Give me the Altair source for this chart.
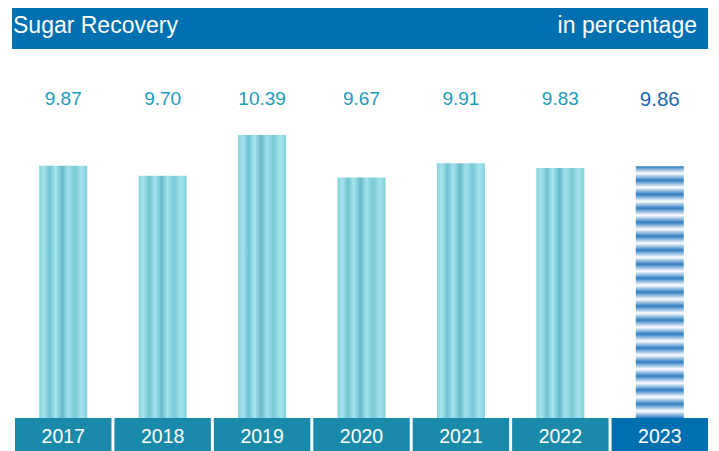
import altair as alt
import pandas as pd

years = ["2017", "2018", "2019", "2020", "2021", "2022", "2023"]
recovery = [9.87, 9.70, 10.39, 9.67, 9.91, 9.83, 9.86]
kind = ["past", "past", "past", "past", "past", "past", "current"]
title_left = ["Sugar Recovery"]
title_right = ["in percentage"]

df = pd.DataFrame({"year": years, "value": recovery, "kind": kind})
hdr_df = pd.DataFrame({"title": title_left, "unit": title_right})

FONT = "Liberation Sans"
Y_MIN = 5.6

xscale = alt.Scale(domain=years, paddingInner=0.03, paddingOuter=0)
x = alt.X("year:N", scale=xscale, axis=None)
y = alt.Y("value:Q", scale=alt.Scale(domain=[Y_MIN, 12.54], zero=False, nice=False), axis=None)

cyan_grad = alt.LinearGradient(
    gradient="linear",
    stops=[
        alt.GradientStop(offset=0.0, color="#86d3df"),
        alt.GradientStop(offset=0.1, color="#a6e4ed"),
        alt.GradientStop(offset=0.22, color="#6fc2d0"),
        alt.GradientStop(offset=0.34, color="#a8e5ee"),
        alt.GradientStop(offset=0.48, color="#66b9c9"),
        alt.GradientStop(offset=0.6, color="#a2e2eb"),
        alt.GradientStop(offset=0.74, color="#78c9d6"),
        alt.GradientStop(offset=0.88, color="#a4e3ec"),
        alt.GradientStop(offset=1.0, color="#84d1dd"),
    ],
    x1=0, x2=1, y1=0, y2=0,
)

n_rep = 18
blue_stops = []
for i in range(n_rep):
    blue_stops.append(alt.GradientStop(offset=i / n_rep, color="#2f7dc4"))
    blue_stops.append(alt.GradientStop(offset=(i + 0.5) / n_rep, color="#ffffff"))
blue_stops.append(alt.GradientStop(offset=1.0, color="#2f7dc4"))
blue_grad = alt.LinearGradient(gradient="linear", stops=blue_stops, x1=0, x2=0, y1=0, y2=1)

base = alt.Chart(df)

bars_past = base.transform_filter("datum.kind == 'past'").mark_bar(size=48, fill=cyan_grad).encode(
    x=x, y=y, y2=alt.datum(Y_MIN)
)
bars_cur = base.transform_filter("datum.kind == 'current'").mark_bar(size=48, fill=blue_grad).encode(
    x=x, y=y, y2=alt.datum(Y_MIN)
)

lab_past = base.transform_filter("datum.kind == 'past'").mark_text(
    font=FONT, fontSize=19, color="#1d9cbb", baseline="middle"
).encode(x=x, y=alt.value(91), text=alt.Text("value:Q", format=".2f"))
lab_cur = base.transform_filter("datum.kind == 'current'").mark_text(
    font=FONT, fontSize=20.5, color="#1a6aae", baseline="middle"
).encode(x=x, y=alt.value(91.5), text=alt.Text("value:Q", format=".2f"))

boxes = base.mark_rect().encode(
    x=x,
    y=alt.value(410),
    y2=alt.value(443),
    color=alt.Color("kind:N", scale=alt.Scale(domain=["past", "current"], range=["#1a8aab", "#006fb0"]), legend=None),
)
year_txt = base.mark_text(font=FONT, fontSize=19.5, color="white", baseline="middle").encode(
    x=x, y=alt.value(429), text="year:N"
)

hdr = alt.Chart(hdr_df)
hdr_rect = hdr.mark_rect(color="#0070b0").encode(
    x=alt.value(-3), x2=alt.value(693), y=alt.value(0), y2=alt.value(41)
)
hdr_left = hdr.mark_text(font=FONT, fontSize=23, color="white", align="left", baseline="middle").encode(
    x=alt.value(-2), y=alt.value(18), text="title:N"
)
hdr_right = hdr.mark_text(font=FONT, fontSize=23, color="white", align="right", baseline="middle").encode(
    x=alt.value(682), y=alt.value(18), text="unit:N"
)

chart = alt.layer(
    hdr_rect, hdr_left, hdr_right, bars_past, bars_cur, lab_past, lab_cur, boxes, year_txt
).properties(
    width=693,
    height=410,
    autosize=alt.AutoSizeParams(type="none"),
    padding={"left": 7, "top": 0, "right": 3, "bottom": 33},
).configure_view(strokeWidth=0)

chart.save("out.html", embed_options={"renderer": "svg", "actions": False})
